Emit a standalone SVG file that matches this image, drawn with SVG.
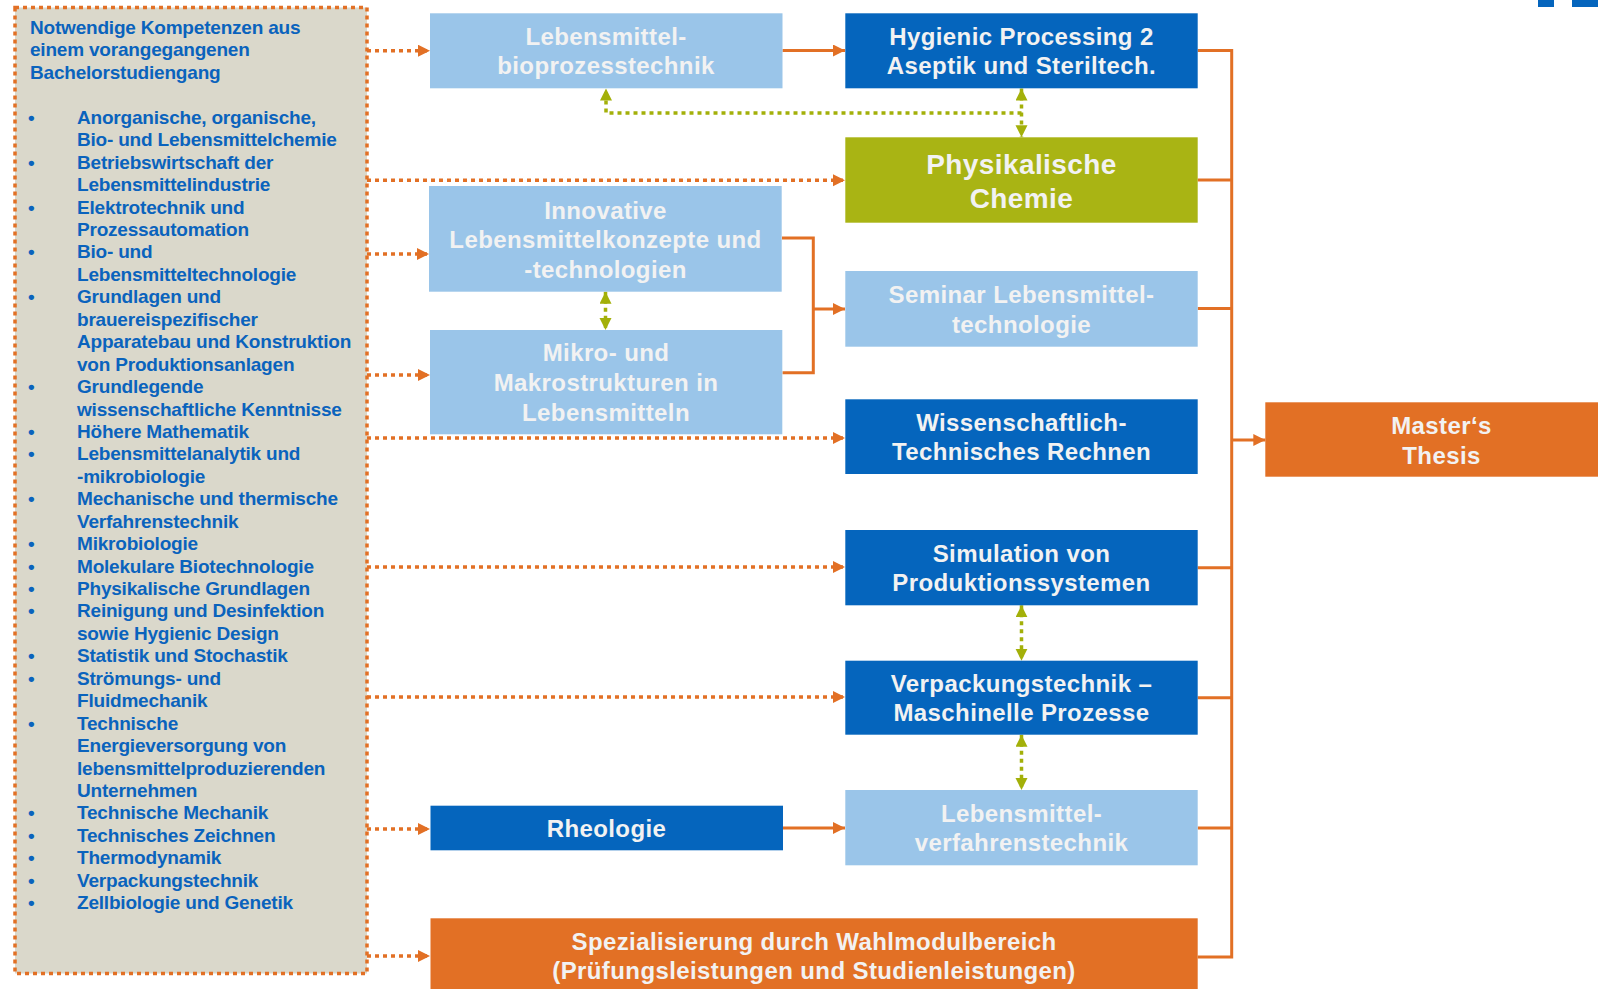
<svg xmlns="http://www.w3.org/2000/svg" width="1598" height="989" viewBox="0 0 1598 989">
<defs>
<style>
.lt{font-family:"Liberation Sans",Arial,sans-serif;font-weight:bold;font-size:19px;letter-spacing:-0.2px;fill:#0A63BD}
.nt{font-family:"Liberation Sans",Arial,sans-serif;font-weight:bold;font-size:24px;letter-spacing:0.4px;fill:#F2F2F2;text-anchor:middle}
.big{font-size:28px}
.lb{fill:#9AC5E9}
.db{fill:#0565BD}
.gr{fill:#A9B414}
.or{fill:#E27025}
.dot{fill:none;stroke:#E27025;stroke-width:3.5;stroke-dasharray:4 4}
.sol{fill:none;stroke:#E27025;stroke-width:3}
.gdot{fill:none;stroke:#A3B009;stroke-width:3.5;stroke-dasharray:4 4}
</style>
<marker id="ao" markerUnits="userSpaceOnUse" markerWidth="13" markerHeight="13" refX="12" refY="6" orient="auto"><path d="M0,0 L12,6 L0,12 z" fill="#E27025"/></marker>
<marker id="ag" markerUnits="userSpaceOnUse" markerWidth="13" markerHeight="13" refX="12" refY="6" orient="auto-start-reverse"><path d="M0,0 L12,6 L0,12 z" fill="#A3B009"/></marker>
</defs>
<rect x="0" y="0" width="1598" height="989" fill="#FFFFFF"/>
<rect x="1538" y="0" width="16" height="7" fill="#0565BD"/>
<rect x="1572" y="0" width="26" height="7" fill="#0565BD"/>

<g id="prereq">
<rect x="15" y="7.5" width="352" height="966" fill="#DAD8CB" stroke="#E27025" stroke-width="3.5" stroke-dasharray="4 4"/>
<text class="lt" x="30" y="34">Notwendige Kompetenzen aus</text>
<text class="lt" x="30" y="56.4">einem vorangegangenen</text>
<text class="lt" x="30" y="78.9">Bachelorstudiengang</text>
<g class="lt">
<text x="28" y="123.8">•</text><text x="77" y="123.8">Anorganische, organische,</text>
<text x="77" y="146.2">Bio- und Lebensmittelchemie</text>
<text x="28" y="168.7">•</text><text x="77" y="168.7">Betriebswirtschaft der</text>
<text x="77" y="191.1">Lebensmittelindustrie</text>
<text x="28" y="213.5">•</text><text x="77" y="213.5">Elektrotechnik und</text>
<text x="77" y="236">Prozessautomation</text>
<text x="28" y="258.4">•</text><text x="77" y="258.4">Bio- und</text>
<text x="77" y="280.8">Lebensmitteltechnologie</text>
<text x="28" y="303.3">•</text><text x="77" y="303.3">Grundlagen und</text>
<text x="77" y="325.7">brauereispezifischer</text>
<text x="77" y="348.2">Apparatebau und Konstruktion</text>
<text x="77" y="370.6">von Produktionsanlagen</text>
<text x="28" y="393">•</text><text x="77" y="393">Grundlegende</text>
<text x="77" y="415.5">wissenschaftliche Kenntnisse</text>
<text x="28" y="437.9">•</text><text x="77" y="437.9">Höhere Mathematik</text>
<text x="28" y="460.3">•</text><text x="77" y="460.3">Lebensmittelanalytik und</text>
<text x="77" y="482.8">-mikrobiologie</text>
<text x="28" y="505.2">•</text><text x="77" y="505.2">Mechanische und thermische</text>
<text x="77" y="527.7">Verfahrenstechnik</text>
<text x="28" y="550.1">•</text><text x="77" y="550.1">Mikrobiologie</text>
<text x="28" y="572.5">•</text><text x="77" y="572.5">Molekulare Biotechnologie</text>
<text x="28" y="595">•</text><text x="77" y="595">Physikalische Grundlagen</text>
<text x="28" y="617.4">•</text><text x="77" y="617.4">Reinigung und Desinfektion</text>
<text x="77" y="639.8">sowie Hygienic Design</text>
<text x="28" y="662.3">•</text><text x="77" y="662.3">Statistik und Stochastik</text>
<text x="28" y="684.7">•</text><text x="77" y="684.7">Strömungs- und</text>
<text x="77" y="707.2">Fluidmechanik</text>
<text x="28" y="729.6">•</text><text x="77" y="729.6">Technische</text>
<text x="77" y="752">Energieversorgung von</text>
<text x="77" y="774.5">lebensmittelproduzierenden</text>
<text x="77" y="796.9">Unternehmen</text>
<text x="28" y="819.3">•</text><text x="77" y="819.3">Technische Mechanik</text>
<text x="28" y="841.8">•</text><text x="77" y="841.8">Technisches Zeichnen</text>
<text x="28" y="864.2">•</text><text x="77" y="864.2">Thermodynamik</text>
<text x="28" y="886.7">•</text><text x="77" y="886.7">Verpackungstechnik</text>
<text x="28" y="909.1">•</text><text x="77" y="909.1">Zellbiologie und Genetik</text>
</g>
</g>

<g id="connectors">
<path class="dot" d="M367,50.7 H430" marker-end="url(#ao)"/>
<path class="dot" d="M367,180.3 H845" marker-end="url(#ao)"/>
<path class="dot" d="M367,254 H429" marker-end="url(#ao)"/>
<path class="dot" d="M367,375 H430" marker-end="url(#ao)"/>
<path class="dot" d="M367,438 H845" marker-end="url(#ao)"/>
<path class="dot" d="M367,567 H845" marker-end="url(#ao)"/>
<path class="dot" d="M367,697 H845" marker-end="url(#ao)"/>
<path class="dot" d="M367,829 H430" marker-end="url(#ao)"/>
<path class="dot" d="M367,956 H430" marker-end="url(#ao)"/>

<path class="sol" d="M782.5,50.5 H845" marker-end="url(#ao)"/>
<path class="sol" d="M782,238 H813.3 V372.7 H782.5"/>
<path class="sol" d="M813.3,309 H845" marker-end="url(#ao)"/>
<path class="sol" d="M783,828 H845" marker-end="url(#ao)"/>

<path class="sol" d="M1197.7,50.5 H1231.7 V957 H1197.7"/>
<path class="sol" d="M1197.7,180 H1231.7"/>
<path class="sol" d="M1197.7,308.5 H1231.7"/>
<path class="sol" d="M1197.7,567.7 H1231.7"/>
<path class="sol" d="M1197.7,697.7 H1231.7"/>
<path class="sol" d="M1197.7,828 H1231.7"/>
<path class="sol" d="M1231.7,440 H1265.3" marker-end="url(#ao)"/>

<path class="gdot" d="M1021.5,113 H606 V88.5" marker-end="url(#ag)"/>
<path class="gdot" d="M1021.5,88.5 V137.3" marker-start="url(#ag)" marker-end="url(#ag)"/>
<path class="gdot" d="M605.5,291.7 V330" marker-start="url(#ag)" marker-end="url(#ag)"/>
<path class="gdot" d="M1021.5,605.3 V660.7" marker-start="url(#ag)" marker-end="url(#ag)"/>
<path class="gdot" d="M1021.5,734.7 V790" marker-start="url(#ag)" marker-end="url(#ag)"/>
</g>

<g id="n-bioprozess">
<rect class="lb" x="430" y="13.3" width="352.5" height="75"/>
<text class="nt" x="606" y="44.8">Lebensmittel-</text>
<text class="nt" x="606" y="73.8">bioprozesstechnik</text>
</g>
<g id="n-hygienic">
<rect class="db" x="845.3" y="13.3" width="352.4" height="75"/>
<text class="nt" x="1021.5" y="45">Hygienic Processing 2</text>
<text class="nt" x="1021.5" y="74">Aseptik und Steriltech.</text>
</g>
<g id="n-physchem">
<rect class="gr" x="845.3" y="137.3" width="352.4" height="85.4"/>
<text class="nt big" x="1021.5" y="174">Physikalische</text>
<text class="nt big" x="1021.5" y="208">Chemie</text>
</g>
<g id="n-innovative">
<rect class="lb" x="429" y="186" width="352.7" height="105.7"/>
<text class="nt" x="605.5" y="218.5">Innovative</text>
<text class="nt" x="605.5" y="248">Lebensmittelkonzepte und</text>
<text class="nt" x="605.5" y="277.7">-technologien</text>
</g>
<g id="n-mikro">
<rect class="lb" x="430" y="330" width="352.3" height="104.3"/>
<text class="nt" x="606" y="361">Mikro- und</text>
<text class="nt" x="606" y="391">Makrostrukturen in</text>
<text class="nt" x="606" y="421">Lebensmitteln</text>
</g>
<g id="n-seminar">
<rect class="lb" x="845.3" y="271" width="352.4" height="75.7"/>
<text class="nt" x="1021.5" y="303">Seminar Lebensmittel-</text>
<text class="nt" x="1021.5" y="332.5">technologie</text>
</g>
<g id="n-wtr">
<rect class="db" x="845.3" y="399.3" width="352.4" height="74.7"/>
<text class="nt" x="1021.5" y="430.5">Wissenschaftlich-</text>
<text class="nt" x="1021.5" y="460">Technisches Rechnen</text>
</g>
<g id="n-master">
<rect class="or" x="1265.3" y="402.3" width="340" height="74.4"/>
<text class="nt" x="1441.5" y="433.5">Master‘s</text>
<text class="nt" x="1441.5" y="463.5">Thesis</text>
</g>
<g id="n-simulation">
<rect class="db" x="845.3" y="530" width="352.4" height="75.3"/>
<text class="nt" x="1021.5" y="561.7">Simulation von</text>
<text class="nt" x="1021.5" y="590.7">Produktionssystemen</text>
</g>
<g id="n-verpackung">
<rect class="db" x="845.3" y="660.7" width="352.4" height="74"/>
<text class="nt" x="1021.5" y="691.7">Verpackungstechnik –</text>
<text class="nt" x="1021.5" y="720.7">Maschinelle Prozesse</text>
</g>
<g id="n-rheologie">
<rect class="db" x="430.5" y="805.7" width="352.5" height="44.6"/>
<text class="nt" x="606.5" y="836.5">Rheologie</text>
</g>
<g id="n-lvt">
<rect class="lb" x="845.3" y="790" width="352.4" height="75.3"/>
<text class="nt" x="1021.5" y="821.7">Lebensmittel-</text>
<text class="nt" x="1021.5" y="850.7">verfahrenstechnik</text>
</g>
<g id="n-spezialisierung">
<rect class="or" x="430.5" y="918.3" width="767.2" height="75"/>
<text class="nt" x="814" y="950">Spezialisierung durch Wahlmodulbereich</text>
<text class="nt" x="814" y="979">(Prüfungsleistungen und Studienleistungen)</text>
</g>
</svg>
